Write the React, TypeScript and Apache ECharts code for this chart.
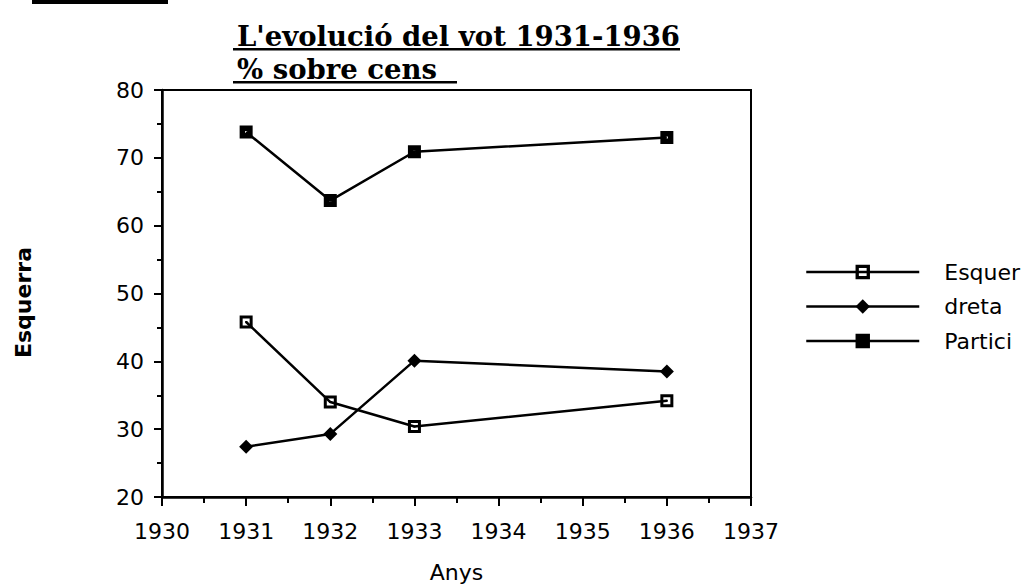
import React, { useEffect, useRef } from "react";
import * as echarts from "echarts";

const years = [1931, 1932, 1933, 1936];
const esquerra = [45.8, 34.0, 30.4, 34.2];
const dreta = [27.4, 29.3, 40.1, 38.5];
const participacio = [73.8, 63.7, 70.9, 73.0];
const seriesNames = ["Esquerra", "dreta", "Participació"];
// legend labels as they appear (cut at the page's right edge) in the reference
const legendLabels = ["Esquer", "dreta", "Partici"];
const titleLines = ["L'evolució del vot 1931-1936", "% sobre cens"];
const yAxisName = "Esquerra";
const xAxisName = "Anys";

const openSquare = "path://M0,0L13,0L13,13L0,13Z M3,3L3,10L10,10L10,3Z M5.5,5.5L7.5,5.5L7.5,7.5L5.5,7.5Z";
const filledSquare = "path://M0,0L13,0L13,13L0,13Z M5.5,5.5L5.5,7.5L7.5,7.5L7.5,5.5Z";

export default function App() {
  const ref = useRef<HTMLDivElement>(null);
  useEffect(() => {
    if (!ref.current) return;
    const chart = echarts.init(ref.current, undefined, { renderer: "svg" });
    const pair = (vals: number[]) => years.map((y, i) => [y, vals[i]]);
    const tickFont = { fontFamily: "DejaVu Sans", fontSize: 22, color: "#000" };
    const lineBase = { type: "line", lineStyle: { color: "#000", width: 2.5 }, itemStyle: { color: "#000", borderWidth: 0 }, symbolSize: 13, z: 3 };
    chart.setOption({
      animation: false,
      backgroundColor: "#fff",
      title: {
        text: titleLines.join("\n"),
        left: 232,
        top: 14,
        textStyle: { fontFamily: "DejaVu Serif", fontWeight: "bold", fontSize: 27.5, lineHeight: 33, color: "#000" },
      },
      graphic: [
        { type: "rect", shape: { x: 32, y: 0, width: 136, height: 4 }, style: { fill: "#000" } },
        { type: "rect", shape: { x: 233, y: 48, width: 447, height: 2.5 }, style: { fill: "#000" } },
        { type: "rect", shape: { x: 233, y: 81, width: 224, height: 2.5 }, style: { fill: "#000" } },
      ],
      legend: {
        orient: "vertical",
        left: 800,
        top: 255,
        itemWidth: 113,
        itemHeight: 18,
        itemGap: 10.5,
        lineStyle: { width: 2.5 },
        formatter: (name: string) => legendLabels[seriesNames.indexOf(name)],
        textStyle: { fontFamily: "DejaVu Sans", fontSize: 22, color: "#000", padding: [0, 0, 0, 20], lineHeight: 24 },
        data: seriesNames,
      },
      grid: {
        left: 162, top: 90, width: 589, height: 407,
        containLabel: false, outerBoundsMode: "none",
        show: true, borderColor: "#000", borderWidth: 2, backgroundColor: "transparent",
      },
      xAxis: {
        type: "value",
        min: 1930,
        max: 1937,
        interval: 1,
        name: xAxisName,
        nameLocation: "middle",
        nameGap: 64,
        nameTextStyle: { fontFamily: "DejaVu Sans", fontSize: 22, color: "#000" },
        axisLine: { lineStyle: { color: "#000", width: 2.5 } },
        axisTick: { length: 9, lineStyle: { color: "#000", width: 2 } },
        minorTick: { show: true, splitNumber: 2, length: 6, lineStyle: { color: "#000", width: 2 } },
        splitLine: { show: false },
        axisLabel: { ...tickFont, margin: 23, formatter: (v: number) => String(v) },
      },
      yAxis: {
        type: "value",
        min: 20,
        max: 80,
        interval: 10,
        name: yAxisName,
        nameLocation: "middle",
        nameGap: 128,
        nameTextStyle: { fontFamily: "DejaVu Sans", fontWeight: "bold", fontSize: 22, color: "#000", padding: [0, 18, 0, 0] },
        axisLine: { lineStyle: { color: "#000", width: 2.5 } },
        axisTick: { length: 8, lineStyle: { color: "#000", width: 2 } },
        minorTick: { show: true, splitNumber: 2, length: 5, lineStyle: { color: "#000", width: 2 } },
        splitLine: { show: false },
        axisLabel: { ...tickFont, margin: 18 },
      },
      series: [
        { ...lineBase, name: seriesNames[0], data: pair(esquerra), symbol: openSquare },
        { ...lineBase, name: seriesNames[1], data: pair(dreta), symbol: "diamond", symbolSize: 14 },
        { ...lineBase, name: seriesNames[2], data: pair(participacio), symbol: filledSquare },
      ],
    });
    return () => chart.dispose();
  }, []);
  return (
    <div
      ref={ref}
      style={{ position: "fixed", left: 0, top: 0, width: 1029, height: 585, background: "#fff" }}
    />
  );
}
